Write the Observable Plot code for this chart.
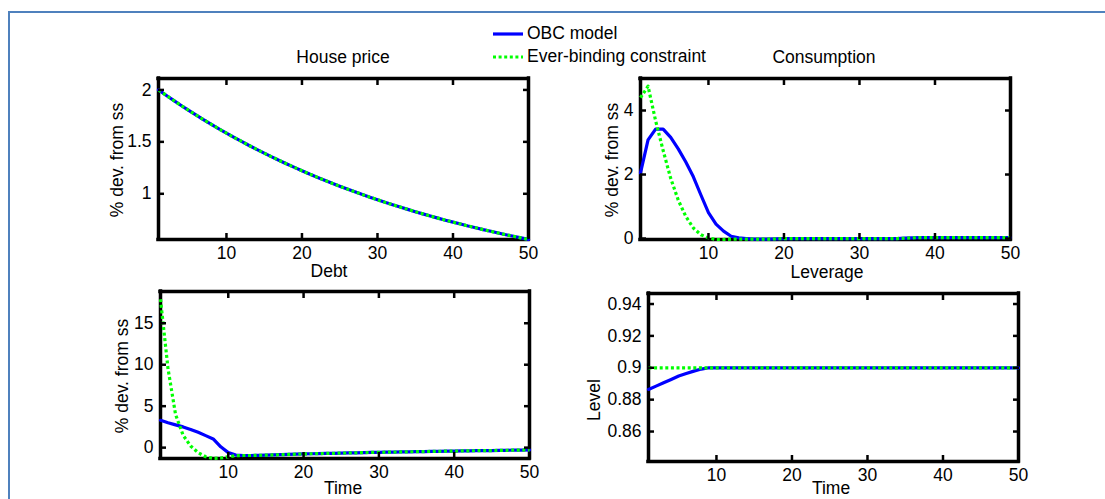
<!DOCTYPE html>
<html><head><meta charset="utf-8">
<script src="https://cdn.jsdelivr.net/npm/d3@7"></script>
<script src="https://cdn.jsdelivr.net/npm/@observablehq/plot@0.6"></script>
<style>
body{margin:0;background:#fff;}
#wrap{position:relative;width:1105px;height:499px;overflow:hidden;font-family:"Liberation Sans",Arial,sans-serif;font-size:17.5px;color:#000;}
.abs{position:absolute;white-space:nowrap;line-height:1;}
.c{transform:translate(-50%,-50%);}
.r{transform:translate(-50%,-50%) rotate(-90deg);}
.lg{transform:translate(0,-50%);}
#outer{position:absolute;left:8px;top:11px;width:1300px;height:700px;border-top:2px solid #4f81bd;border-left:2px solid #4f81bd;}
</style></head><body><div id="wrap"><div id="outer"></div></div><script>
const time = [1,2,3,4,5,6,7,8,9,10,11,12,13,14,15,16,17,18,19,20,21,22,23,24,25,26,27,28,29,30,31,32,33,34,35,36,37,38,39,40,41,42,43,44,45,46,47,48,49,50];
const xTicks = [10,20,30,40,50];

const seriesNames = ["OBC model", "Ever-binding constraint"];
const panelTitles = ["House price", "Consumption", "Debt", "Leverage"];

const housePriceOBC = [2.000,1.949,1.899,1.850,1.803,1.757,1.712,1.668,1.625,1.584,1.543,1.504,1.465,1.428,1.391,1.355,1.321,1.287,1.254,1.222,1.190,1.160,1.130,1.101,1.073,1.046,1.019,0.993,0.967,0.943,0.918,0.895,0.872,0.850,0.828,0.807,0.786,0.766,0.746,0.727,0.709,0.690,0.673,0.655,0.639,0.622,0.606,0.591,0.576,0.561];
const housePriceEB  = [2.000,1.949,1.899,1.850,1.803,1.757,1.712,1.668,1.625,1.584,1.543,1.504,1.465,1.428,1.391,1.355,1.321,1.287,1.254,1.222,1.190,1.160,1.130,1.101,1.073,1.046,1.019,0.993,0.967,0.943,0.918,0.895,0.872,0.850,0.828,0.807,0.786,0.766,0.746,0.727,0.709,0.690,0.673,0.655,0.639,0.622,0.606,0.591,0.576,0.561];

const consumptionOBC = [2.05,3.08,3.42,3.42,3.16,2.80,2.39,1.93,1.36,0.81,0.45,0.23,0.07,0.02,0.00,-0.02,-0.02,-0.02,-0.01,0.00,0.00,0.00,0.00,0.00,0.00,0.00,0.00,0.00,0.00,0.00,0.00,0.00,0.00,0.00,0.00,0.01,0.02,0.03,0.03,0.03,0.03,0.03,0.03,0.03,0.03,0.03,0.03,0.03,0.03,0.03];
const consumptionEB  = [4.40,4.76,3.68,2.75,1.88,1.20,0.69,0.33,0.12,0.02,-0.03,-0.03,-0.02,-0.02,-0.02,-0.02,-0.02,-0.02,-0.01,0.00,0.00,0.00,0.00,0.00,0.00,0.00,0.00,0.00,0.00,0.00,0.00,0.00,0.00,0.00,0.00,0.01,0.02,0.03,0.03,0.03,0.03,0.03,0.03,0.03,0.03,0.03,0.03,0.03,0.03,0.03];

const debtOBC = [3.30,3.00,2.75,2.50,2.20,1.85,1.45,1.05,0.10,-0.60,-0.90,-0.95,-0.95,-0.93,-0.91,-0.88,-0.85,-0.82,-0.79,-0.76,-0.74,-0.72,-0.70,-0.68,-0.66,-0.64,-0.62,-0.60,-0.58,-0.57,-0.55,-0.53,-0.52,-0.50,-0.49,-0.47,-0.46,-0.44,-0.42,-0.41,-0.40,-0.38,-0.37,-0.36,-0.35,-0.33,-0.32,-0.30,-0.29,-0.28];
const debtEB  = [17.90,9.50,4.00,1.50,0.20,-0.60,-1.10,-1.30,-1.25,-1.10,-0.97,-0.95,-0.95,-0.93,-0.91,-0.88,-0.85,-0.82,-0.79,-0.76,-0.74,-0.72,-0.70,-0.68,-0.66,-0.64,-0.62,-0.60,-0.58,-0.57,-0.55,-0.53,-0.52,-0.50,-0.49,-0.47,-0.46,-0.44,-0.42,-0.41,-0.40,-0.38,-0.37,-0.36,-0.35,-0.33,-0.32,-0.30,-0.29,-0.28];

const leverageOBC = [0.8864,0.8885,0.8906,0.8927,0.8948,0.8964,0.8979,0.8992,0.9000,0.9000,0.9000,0.9000,0.9000,0.9000,0.9000,0.9000,0.9000,0.9000,0.9000,0.9000,0.9000,0.9000,0.9000,0.9000,0.9000,0.9000,0.9000,0.9000,0.9000,0.9000,0.9000,0.9000,0.9000,0.9000,0.9000,0.9000,0.9000,0.9000,0.9000,0.9000,0.9000,0.9000,0.9000,0.9000,0.9000,0.9000,0.9000,0.9000,0.9000,0.9000];
const leverageEB  = [0.9,0.9,0.9,0.9,0.9,0.9,0.9,0.9,0.9,0.9,0.9,0.9,0.9,0.9,0.9,0.9,0.9,0.9,0.9,0.9,0.9,0.9,0.9,0.9,0.9,0.9,0.9,0.9,0.9,0.9,0.9,0.9,0.9,0.9,0.9,0.9,0.9,0.9,0.9,0.9,0.9,0.9,0.9,0.9,0.9,0.9,0.9,0.9,0.9,0.9];

const housePriceYTicks = [1, 1.5, 2];
const consumptionYTicks = [0, 2, 4];
const debtYTicks = [0, 5, 10, 15];
const leverageYTicks = [0.86, 0.88, 0.9, 0.92, 0.94];

const BLUE = "#0000ff", GREEN = "#00ff00";
const FONT = '"Liberation Sans", Arial, sans-serif';
const wrap = document.getElementById("wrap");
const fmt = d3.format("~g");

function panel({left, top, w, h, yDomain, yTicks, obc, eb}) {
  const mL = 70, mR = 12, mT = 12, mB = 34;
  const rows = (arr) => time.map((t, i) => ({t, v: arr[i]}));
  const tickOpts = {tickFormat: () => "", label: null, strokeWidth: 2.5};
  const xDomain = [1, 50];
  const svg = Plot.plot({
    width: w + mL + mR, height: h + mT + mB,
    marginLeft: mL, marginRight: mR, marginTop: mT, marginBottom: mB,
    style: {fontFamily: FONT, fontSize: "17.5px", background: "transparent", overflow: "visible", color: "#000"},
    x: {domain: xDomain},
    y: {domain: yDomain},
    marks: [
      Plot.ruleX(xDomain, {stroke: "#000", strokeWidth: 3.5, strokeLinecap: "square"}),
      Plot.ruleY(yDomain, {stroke: "#000", strokeWidth: 3.5, strokeLinecap: "square"}),
      Plot.line(rows(obc), {x: "t", y: "v", stroke: BLUE, strokeWidth: 3.2}),
      Plot.line(rows(eb), {x: "t", y: "v", stroke: GREEN, strokeWidth: 3.2, strokeDasharray: "3,2.6", strokeLinecap: "butt"}),
      Plot.axisX(xTicks, {anchor: "bottom", tickSize: 0, tickPadding: 7, tickFormat: fmt, label: null}),
      Plot.axisX(xTicks, {anchor: "bottom", tickSize: 6, dy: -6, ...tickOpts}),
      Plot.axisX(xTicks, {anchor: "top", tickSize: 6, dy: 6, ...tickOpts}),
      Plot.axisY(yTicks, {anchor: "left", tickSize: 0, tickPadding: 7, tickFormat: fmt, label: null}),
      Plot.axisY(yTicks, {anchor: "left", tickSize: 6, dx: 6, ...tickOpts}),
      Plot.axisY(yTicks, {anchor: "right", tickSize: 6, dx: -6, ...tickOpts})
    ]
  });
  svg.style.position = "absolute";
  svg.style.left = (left - mL) + "px";
  svg.style.top = (top - mT) + "px";
  wrap.appendChild(svg);
}

panel({left: 158, top: 78, w: 370, h: 161, yDomain: [0.56, 2.11], yTicks: housePriceYTicks, obc: housePriceOBC, eb: housePriceEB});
panel({left: 640, top: 78, w: 370, h: 161, yDomain: [-0.03, 5.0], yTicks: consumptionYTicks, obc: consumptionOBC, eb: consumptionEB});
panel({left: 160, top: 291, w: 369, h: 167, yDomain: [-1.31, 18.83], yTicks: debtYTicks, obc: debtOBC, eb: debtEB});
panel({left: 648, top: 293, w: 370, h: 168, yDomain: [0.8412, 0.9466], yTicks: leverageYTicks, obc: leverageOBC, eb: leverageEB});

function label(text, x, y, cls) {
  const d = document.createElement("div");
  d.className = "abs " + cls;
  d.style.left = x + "px";
  d.style.top = y + "px";
  d.textContent = text;
  wrap.appendChild(d);
}
label(panelTitles[0], 343, 58, "c");
label(panelTitles[1], 824, 58, "c");
label(panelTitles[2], 329, 272, "c");
label(panelTitles[3], 827, 273, "c");
label("Time", 343, 489, "c");
label("Time", 831, 489, "c");
label("% dev. from ss", 118, 160, "r");
label("% dev. from ss", 613, 160, "r");
label("% dev. from ss", 123, 376, "r");
label("Level", 595, 400, "r");

// legend
const lgSvg = d3.create("svg").attr("width", 40).attr("height", 40)
  .style("position", "absolute").style("left", "490px").style("top", "20px");
lgSvg.append("line").attr("x1", 3).attr("x2", 33).attr("y1", 14).attr("y2", 14)
  .attr("stroke", BLUE).attr("stroke-width", 3.2);
lgSvg.append("line").attr("x1", 3).attr("x2", 33).attr("y1", 37).attr("y2", 37)
  .attr("stroke", GREEN).attr("stroke-width", 3.2).attr("stroke-dasharray", "3,2.6");
wrap.appendChild(lgSvg.node());
label(seriesNames[0], 527, 34, "lg");
label(seriesNames[1], 527, 57, "lg");
</script></body></html>
